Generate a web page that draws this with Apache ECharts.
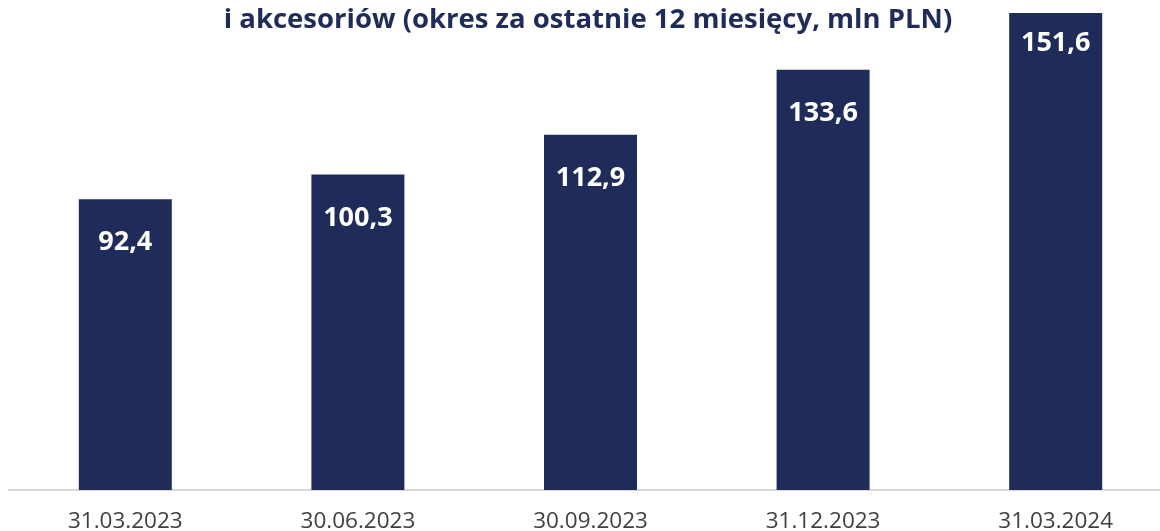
<!DOCTYPE html>
<html>
<head>
<meta charset="utf-8">
<script src="https://cdn.jsdelivr.net/npm/echarts@6/dist/echarts.min.js"></script>
<style>
  html, body { margin: 0; padding: 0; background: #fff; }
  #chart { width: 1160px; height: 531px; }
</style>
</head>
<body>
<div id="chart"></div>
<script>
    // dane: przychody (okres za ostatnie 12 miesiecy, mln PLN)
    var categories = ['31.03.2023', '30.06.2023', '30.09.2023', '31.12.2023', '31.03.2024'];
    var values = [92.4, 100.3, 112.9, 133.6, 151.6];
    var titleText = 'i akcesoriów (okres za ostatnie 12 miesięcy, mln PLN)';

    var navy = '#1f2c5a';
    var myChart = echarts.init(document.getElementById('chart'));

    var barData = values.map(function (v, i) {
        var item = { value: v };
        // ostatni slupek siega pod tytul, etykieta troche wyzej
        if (i === values.length - 1) {
            item.label = { distance: 17 };
        }
        return item;
    });

    option = {
        backgroundColor: '#fff',
        animation: false,
        title: {
            text: titleText,
            left: 583,
            top: 1,
            textAlign: 'center',
            textStyle: {
                fontFamily: 'Open Sans',
                fontWeight: 'bold',
                fontSize: 27.5,
                color: navy
            }
        },
        grid: {
            left: 9,
            top: 13,
            width: 1163,
            height: 477,
            outerBoundsMode: 'none'
        },
        xAxis: {
            type: 'category',
            data: categories,
            axisTick: { show: false },
            axisLine: { lineStyle: { color: '#d9d9d9', width: 2 } },
            axisLabel: {
                margin: 20,
                fontFamily: 'Open Sans',
                fontSize: 22.5,
                color: '#404040'
            }
        },
        yAxis: {
            type: 'value',
            min: 0,
            max: 151.6,
            show: false,
            splitLine: { show: false }
        },
        series: [{
            type: 'bar',
            data: barData,
            barWidth: 93,
            itemStyle: { color: navy },
            label: {
                show: true,
                position: 'insideTop',
                distance: 30,
                color: '#fff',
                fontFamily: 'Open Sans',
                fontWeight: 'bold',
                fontSize: 27,
                formatter: function (p) {
                    return p.value.toFixed(1).replace('.', ',');
                }
            }
        }]
    };
    myChart.setOption(option);
</script>
</body>
</html>
